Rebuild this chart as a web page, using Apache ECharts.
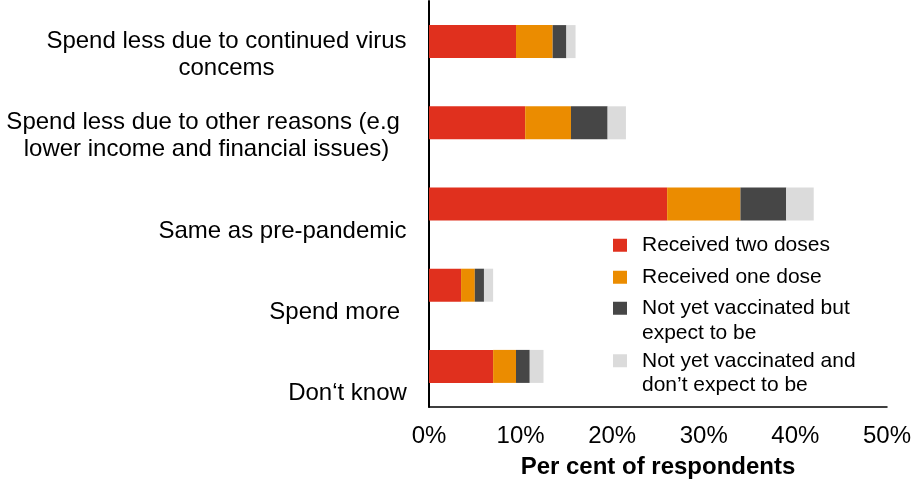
<!DOCTYPE html>
<html>
<head>
<meta charset="utf-8">
<script src="https://cdn.jsdelivr.net/npm/echarts@6/dist/echarts.min.js"></script>
<style>
  html, body { margin: 0; padding: 0; background: #fff; }
  #chart { width: 914px; height: 484px; }
</style>
</head>
<body>
<div id="chart"></div>
<script>
// Spending intentions by vaccination status (per cent of respondents)
const categories = [
  'Spend less due to continued virus\nconcems',
  'Spend less due to other reasons (e.g \nlower income and financial issues)',
  'Same as pre-pandemic',
  'Spend more ',
  'Don\u2018t know'
];
const seriesNames = [
  'Received two doses',
  'Received one dose',
  'Not yet vaccinated but\nexpect to be',
  'Not yet vaccinated and\ndon\u2019t expect to be'
];
const twoDoses   = [9.5, 10.5, 26.0, 3.5, 7.0];
const oneDose    = [4.0, 5.0, 8.0, 1.5, 2.5];
const expectTo   = [1.5, 4.0, 5.0, 1.0, 1.5];
const dontExpect = [1.0, 2.0, 3.0, 1.0, 1.5];
const xTicks = [0, 10, 20, 30, 40, 50];

const seriesValues = [twoDoses, oneDose, expectTo, dontExpect];
const colors = ['#E0301E', '#EB8C00', '#464646', '#DBDBDB'];
const FONT = '"Liberation Sans", Arial, sans-serif';

// Multi-line category labels are centred line by line inside a block
// that is right-aligned against the axis; measure the widest line.
const ctx = document.createElement('canvas').getContext('2d');
ctx.font = '24px "Liberation Sans"';
const labelRich = { gap: { fontSize: 24, lineHeight: 27, fontFamily: FONT } };
categories.forEach((c, i) => {
  const w = Math.max.apply(null, c.split('\n').map(l => ctx.measureText(l).width));
  labelRich['c' + i] = {
    width: Math.ceil(w), align: 'center',
    fontSize: 24, lineHeight: 27, fontFamily: FONT, color: '#000'
  };
});

// Legend: one component per entry so that each swatch sits beside the
// first line of its text (two-line entries get a blank leading line so
// the swatch lines up with the first written line).
const legendTops = [233, 265, 271.5, 324];
const legends = seriesNames.map((n, i) => {
  const twoLine = n.indexOf('\n') >= 0;
  return {
    data: [n],
    left: 613,
    top: legendTops[i],
    orient: 'vertical',
    padding: 0,
    icon: 'rect',
    itemWidth: 14,
    itemHeight: 13,
    formatter: name => (twoLine ? '\n' + name : name),
    textStyle: {
      fontSize: 21, lineHeight: 24.5, fontFamily: FONT, color: '#000',
      padding: [0, 0, 0, 10]
    }
  };
});

const chart = echarts.init(document.getElementById('chart'), null, { renderer: 'canvas' });
chart.setOption({
  animation: false,
  backgroundColor: '#fff',
  textStyle: { fontFamily: FONT },
  grid: { left: 429, right: 27, top: 1, bottom: 75, containLabel: false },
  legend: legends,
  xAxis: {
    type: 'value',
    min: xTicks[0],
    max: xTicks[xTicks.length - 1],
    interval: xTicks[1] - xTicks[0],
    name: 'Per cent of respondents',
    nameLocation: 'middle',
    nameGap: 48,
    nameTextStyle: { fontSize: 24, fontWeight: 'bold', color: '#000', fontFamily: FONT },
    axisLine: { show: true, lineStyle: { color: '#000', width: 1.5 } },
    axisTick: { show: false },
    splitLine: { show: false },
    axisLabel: { fontSize: 24, color: '#000', margin: 17, formatter: '{value}%', fontFamily: FONT }
  },
  yAxis: {
    type: 'category',
    inverse: true,
    data: categories,
    axisLine: { show: true, lineStyle: { color: '#000', width: 2 } },
    axisTick: { show: false },
    splitLine: { show: false },
    axisLabel: {
      margin: 22,
      align: 'right',
      verticalAlign: 'middle',
      rich: labelRich,
      formatter: (value, index) => {
        const lines = value.split('\n');
        const pad = [];
        for (let k = lines.length; k < 3; k++) pad.push('{gap| }');
        return pad.concat(lines.map(l => '{c' + index + '|' + l + '}')).join('\n');
      }
    }
  },
  series: seriesValues.map((vals, i) => ({
    name: seriesNames[i],
    type: 'bar',
    stack: 'total',
    barWidth: 33,
    itemStyle: { color: colors[i] },
    data: vals
  }))
});
</script>
</body>
</html>
